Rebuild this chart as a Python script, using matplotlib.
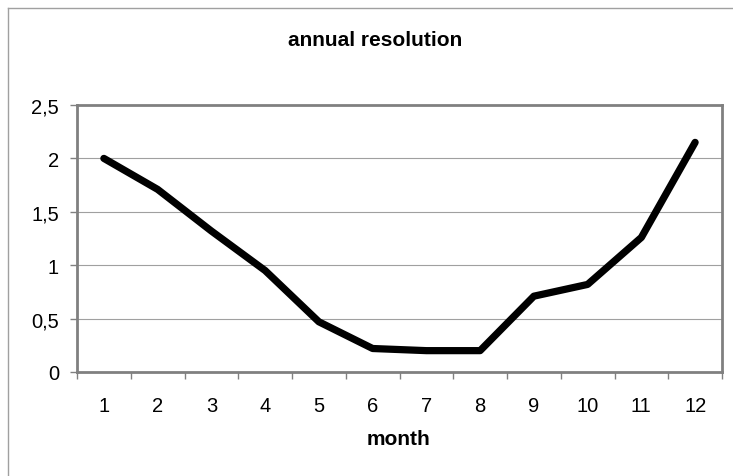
import matplotlib
matplotlib.use("Agg")
import matplotlib.pyplot as plt
from matplotlib.ticker import FuncFormatter, FixedLocator
from matplotlib.lines import Line2D

months = [1, 2, 3, 4, 5, 6, 7, 8, 9, 10, 11, 12]
values = [2.0, 1.71, 1.32, 0.95, 0.47, 0.22, 0.20, 0.20, 0.71, 0.82, 1.26, 2.15]
y_ticks = [0, 0.5, 1, 1.5, 2, 2.5]

plt.rcParams['font.family'] = ['Liberation Sans', 'DejaVu Sans']

W, H = 733, 477
fig = plt.figure(figsize=(W / 100, H / 100), dpi=100)
fig.patch.set_facecolor('white')

left, right, top, bottom = 77, 722, 106, 373
ax = fig.add_axes([left / W, 1 - bottom / H, (right - left) / W, (bottom - top) / H])

xpos = list(range(len(months)))
ax.plot(xpos, values, color='black', lw=5.2, solid_capstyle='round', solid_joinstyle='round', zorder=3)

ax.set_xlim(-0.5, len(months) - 0.5)
ax.set_ylim(0, 2.5)

ax.set_xticks(xpos)
ax.set_xticklabels([str(m) for m in months], fontsize=14.5)
ax.xaxis.set_minor_locator(FixedLocator([i - 0.5 for i in range(len(months) + 1)]))
ax.tick_params(axis='x', which='major', length=0, pad=17)
ax.tick_params(axis='x', which='minor', length=5, color='#808080', width=1, direction='out')

ax.set_yticks(y_ticks)
ax.yaxis.set_major_formatter(FuncFormatter(lambda v, p: f"{v:g}".replace('.', ',')))
ax.tick_params(axis='y', length=5, color='#808080', width=1, direction='out', labelsize=14.5, pad=8)

ax.grid(axis='y', color='#a0a0a0', lw=0.8, zorder=0)
ax.set_axisbelow(True)
for s in ax.spines.values():
    s.set_color('#808080')
    s.set_linewidth(2)

fig.text(375 / W, 1 - 40 / H, 'annual resolution', ha='center', va='center',
         fontsize=15, fontweight='bold')
fig.text(399 / W, 1 - 440 / H, 'month', ha='center', va='center',
         fontsize=15, fontweight='bold')

# chart area border (left and top edges)
fig.add_artist(Line2D([8 / W, 8 / W], [0, 1 - 9 / H], transform=fig.transFigure, color='#a0a0a0', lw=1))
fig.add_artist(Line2D([8 / W, 1], [1 - 9 / H, 1 - 9 / H], transform=fig.transFigure, color='#a0a0a0', lw=1))

fig.savefig('out.png', dpi=100)
